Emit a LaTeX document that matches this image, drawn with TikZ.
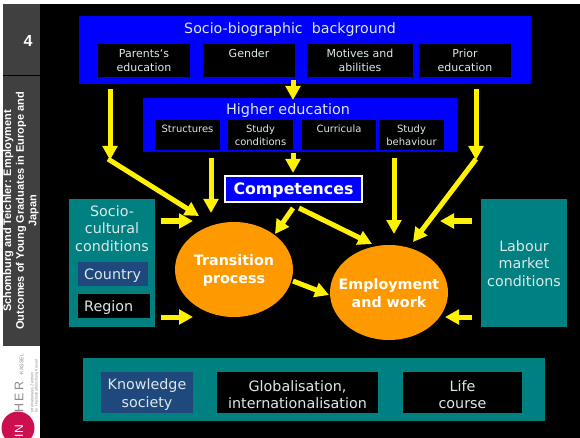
\documentclass[tikz,border=0pt]{standalone}
\usepackage{fontspec}
\setmainfont{DejaVu Sans}
\newfontfamily\headfont{Liberation Sans}
\usetikzlibrary{arrows.meta,calc,shapes.geometric}
\definecolor{tealbox}{HTML}{008080}
\definecolor{navybox}{HTML}{1F497D}
\definecolor{sidegray}{HTML}{404040}
\definecolor{orangeel}{HTML}{FF9900}
\definecolor{lighttext}{HTML}{DDE8E8}
\definecolor{logored}{HTML}{CC0F4E}
\definecolor{logogray}{HTML}{8A8A8A}
\tikzset{
  x=1pt,y=-1pt,
  blockbox/.style={fill=#1,draw=none,inner sep=0pt,outer sep=0pt},
  txt/.style={text=#1,align=center,inner sep=0pt,font=\fontsize{11}{14}\selectfont},
  flow/.style={draw=yellow,line width=5pt,-{Triangle[length=14pt,width=14.5pt]}},
}
\newcommand{\boxat}[6]{%
  \node[blockbox=#5,minimum width=#3pt-#1pt,minimum height=#4pt-#2pt,anchor=north west] (#6) at (#1,#2) {};}
\begin{document}
\begin{tikzpicture}
\useasboundingbox (0,0) rectangle (580,438);
\fill[white] (0,0) rectangle (580,438);
\fill[black] (3,4) rectangle (580,438);
% side panel
\boxat{3}{4}{40}{75}{sidegray}{pagebox}
\boxat{3}{76}{40}{346}{sidegray}{titlebox}
\fill[white] (0,346) rectangle (40,438);
\node[text=white,inner sep=0pt,font=\headfont\bfseries\fontsize{16}{18}\selectfont] (pagenum) at (28,41) {4};
\node[text=white,inner sep=0pt,rotate=90,align=center,font=\headfont\bfseries\fontsize{11}{12.6}\selectfont] (sidetitle) at (21,211) {Schomburg and Teichler: Employment\\Outcomes of Young Graduates in Europe and\\Japan};
% logo
\begin{scope}
\clip (0,346) rectangle (40,438);
\fill[logored] (18,428) circle (16.5);
\end{scope}
\node[text=white,rotate=90,inner sep=0pt,font=\headfont\fontsize{12}{12}\selectfont] (logoin) at (19,431) {IN};
\node[text=logogray,rotate=90,inner sep=0pt,font=\headfont\fontsize{12.5}{12.5}\selectfont] (logoher) at (19,397) {H\,E\,R};
\node[text=logogray,rotate=90,inner sep=0pt,font=\headfont\fontsize{5.2}{5.2}\selectfont] (logokassel) at (21.5,365) {-KASSEL};
\node[text=logogray,rotate=90,inner sep=0pt,align=left,font=\headfont\fontsize{3.8}{4.4}\selectfont] (logotext) at (34.5,386) {Internationales Zentrum\\für Hochschulforschung Kassel};
% top block
\boxat{79}{16}{531}{84}{blue}{socio}
\node[txt=lighttext,font=\fontsize{14.2}{16}\selectfont] (sociot) at (290,29.5) {Socio-biographic\ \ background};
\boxat{98}{44}{190}{77}{black}{parents}
\boxat{203}{44}{295}{77}{black}{gender}
\boxat{307}{44}{413}{77}{black}{motives}
\boxat{419}{44}{511}{77}{black}{prior}
\node[txt=lighttext,anchor=north] (parentst) at ($(parents.north)+(0,5)$) {Parents‘s\\education};
\node[txt=lighttext,anchor=north] (gendert) at ($(gender.north)+(0,5)$) {Gender};
\node[txt=lighttext,anchor=north] (motivest) at ($(motives.north)+(0,5)$) {Motives and\\abilities};
\node[txt=lighttext,anchor=north] (priort) at ($(prior.north)+(0,5)$) {Prior\\education};
% higher education
\boxat{143}{98}{457}{152}{blue}{higher}
\node[txt=lighttext,font=\fontsize{14.4}{16}\selectfont] (highert) at (288,111) {Higher\ education};
\boxat{155}{120}{220}{150}{black}{struct}
\boxat{228}{120}{293}{150}{black}{study}
\boxat{302}{120}{376}{150}{black}{curric}
\boxat{379}{120}{444}{150}{black}{behav}
\node[txt=lighttext,anchor=north,font=\fontsize{10}{13.5}\selectfont] (structt) at ($(struct.north)+(0,4.5)$) {Structures};
\node[txt=lighttext,anchor=north,font=\fontsize{10}{13.5}\selectfont] (studyt) at ($(study.north)+(0,4.5)$) {Study\\conditions};
\node[txt=lighttext,anchor=north,font=\fontsize{10}{13.5}\selectfont] (curt) at ($(curric.north)+(0,4.5)$) {Curricula};
\node[txt=lighttext,anchor=north,font=\fontsize{10}{13.5}\selectfont] (behavt) at ($(behav.north)+(0,4.5)$) {Study\\behaviour};
% competences
\node[fill=blue,draw=white,line width=1.2pt,minimum width=137pt,minimum height=26pt,inner sep=0pt] (comp) at (293.5,189) {};
\node[text=white,inner sep=0pt,font=\bfseries\fontsize{15.8}{18}\selectfont] (compt) at (293.5,190.5) {Competences};
% side boxes
\boxat{69}{199}{155}{327}{tealbox}{cultural}
\node[txt=lighttext,font=\fontsize{14.3}{17.5}\selectfont,anchor=north] (culturalt) at (112,205) {Socio-\\cultural\\conditions};
\boxat{78}{262}{148}{286}{navybox}{country}
\boxat{78}{294}{150}{318}{black}{region}
\node[txt=lighttext,font=\fontsize{14.3}{15}\selectfont,anchor=west] (countryt) at (84,276) {Country};
\node[txt=lighttext,font=\fontsize{14.3}{15}\selectfont,anchor=west] (regiont) at (84,308) {Region};
\boxat{481}{199}{567}{327}{tealbox}{labour}
\node[txt=lighttext,font=\fontsize{14.3}{17.5}\selectfont] (labourt) at (524,263.5) {Labour\\market\\conditions};
% ellipses
\node[fill=orangeel,draw=none,ellipse,minimum width=118pt,minimum height=95pt,inner sep=0pt] (trans) at (234,269.5) {};
\node[text=white,align=center,inner sep=0pt,font=\bfseries\fontsize{14.3}{18}\selectfont] (transt) at (234,271) {Transition\\process};
\node[fill=orangeel,draw=none,ellipse,minimum width=118pt,minimum height=95pt,inner sep=0pt] (empl) at (389,292.5) {};
\node[text=white,align=center,inner sep=0pt,font=\bfseries\fontsize{14.3}{18}\selectfont] (emplt) at (389,293.5) {Employment\\and work};
% bottom band
\boxat{83}{358}{545}{421}{tealbox}{band}
\boxat{101}{372}{193}{413}{navybox}{know}
\boxat{217}{372}{378}{413}{black}{global}
\boxat{403}{372}{522}{413}{black}{life}
\node[txt=lighttext,font=\fontsize{14.3}{17.3}\selectfont] (knowt) at ($(know)+(0,2)$) {Knowledge\\society};
\node[txt=lighttext,font=\fontsize{14.3}{17.3}\selectfont] (globalt) at ($(global)+(0,2)$) {Globalisation,\\internationalisation};
\node[txt=lighttext,font=\fontsize{14.3}{17.3}\selectfont] (lifet) at ($(life)+(0,2)$) {Life\\course};
% connector ends
\coordinate (a1) at (110,89);   \coordinate (a2) at (110,160);
\coordinate (a3) at (108,159);  \coordinate (a4) at (199,216);
\coordinate (b1) at (211,158);  \coordinate (b2) at (211,213);
\coordinate (c1) at (293,80);   \coordinate (c2) at (293,100);
\coordinate (d1) at (293,153);  \coordinate (d2) at (293,173);
\coordinate (e1) at (476,89);   \coordinate (e2) at (476,160);
\coordinate (e3) at (476,159);  \coordinate (e4) at (413,242);
\coordinate (f1) at (394,158);  \coordinate (f2) at (394,234);
\coordinate (g1) at (293,208);  \coordinate (g2) at (275,234);
\coordinate (h1) at (299,208);  \coordinate (h2) at (372,244);
\coordinate (i1) at (293,281);  \coordinate (i2) at (329,295);
\coordinate (j1) at (161,221);  \coordinate (j2) at (193,221);
\coordinate (k1) at (161,317);  \coordinate (k2) at (193,317);
\coordinate (l1) at (472,221);  \coordinate (l2) at (440,221);
\coordinate (m1) at (472,317);  \coordinate (m2) at (445,317);
\foreach \s/\t in {a1/a2,a3/a4,b1/b2,c1/c2,d1/d2,e1/e2,e3/e4,f1/f2,g1/g2,h1/h2,i1/i2,j1/j2,k1/k2,l1/l2,m1/m2}
  \draw[flow] (\s) -- (\t);
\end{tikzpicture}
\end{document}
